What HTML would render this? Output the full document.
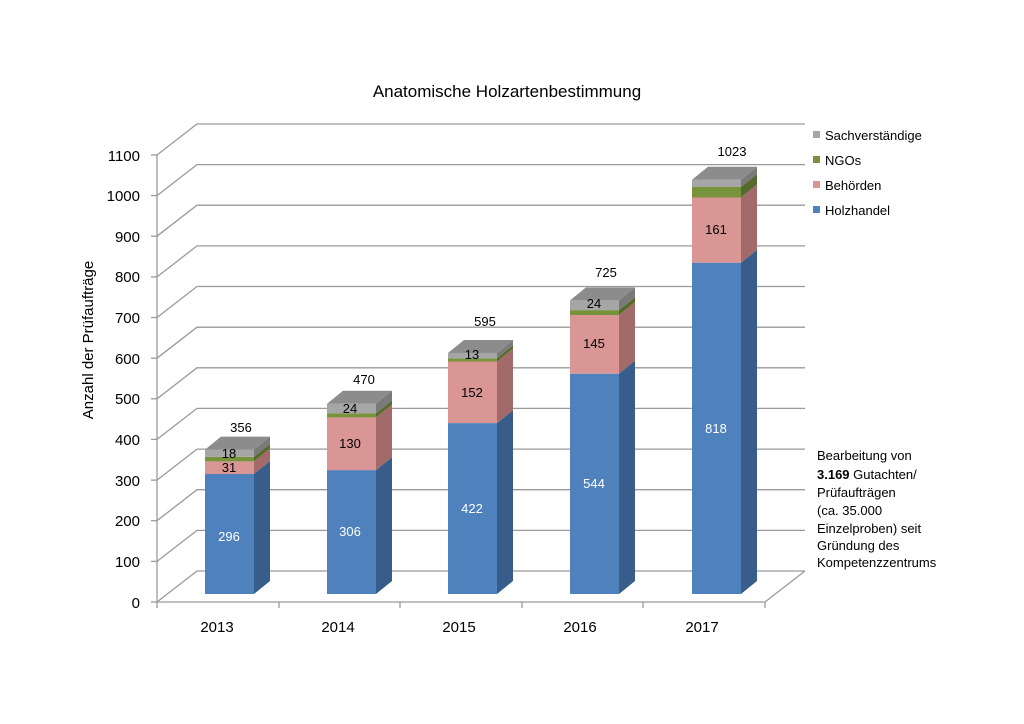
<!DOCTYPE html>
<html><head><meta charset="utf-8"><style>
html,body{margin:0;padding:0;background:#fff}
svg{display:block;font-family:"Liberation Sans",sans-serif}
</style></head><body>
<svg width="1024" height="724" viewBox="0 0 1024 724" xmlns="http://www.w3.org/2000/svg">
<rect width="1024" height="724" fill="#fff"/>
<text x="507" y="97" font-size="17" text-anchor="middle" fill="#000">Anatomische Holzartenbestimmung</text>
<g stroke="#9a9a9a" stroke-width="1.3" fill="none">
<polyline points="157,602 197,571 805,571"/>
<polyline points="157,561.4 197,530.4 805,530.4"/>
<polyline points="157,520.7 197,489.7 805,489.7"/>
<polyline points="157,480.1 197,449.1 805,449.1"/>
<polyline points="157,439.4 197,408.4 805,408.4"/>
<polyline points="157,398.8 197,367.8 805,367.8"/>
<polyline points="157,358.2 197,327.2 805,327.2"/>
<polyline points="157,317.5 197,286.5 805,286.5"/>
<polyline points="157,276.9 197,245.9 805,245.9"/>
<polyline points="157,236.2 197,205.2 805,205.2"/>
<polyline points="157,195.6 197,164.6 805,164.6"/>
<polyline points="157,155 197,124 805,124"/>
<line x1="157" y1="155" x2="157" y2="602"/>
<line x1="765" y1="602" x2="805" y2="571"/>
<line x1="157" y1="602" x2="765" y2="602"/>
<line x1="151" y1="602" x2="157" y2="602"/><line x1="151" y1="561.4" x2="157" y2="561.4"/><line x1="151" y1="520.7" x2="157" y2="520.7"/><line x1="151" y1="480.1" x2="157" y2="480.1"/><line x1="151" y1="439.4" x2="157" y2="439.4"/><line x1="151" y1="398.8" x2="157" y2="398.8"/><line x1="151" y1="358.2" x2="157" y2="358.2"/><line x1="151" y1="317.5" x2="157" y2="317.5"/><line x1="151" y1="276.9" x2="157" y2="276.9"/><line x1="151" y1="236.2" x2="157" y2="236.2"/><line x1="151" y1="195.6" x2="157" y2="195.6"/><line x1="151" y1="155" x2="157" y2="155"/>
<line x1="157" y1="602" x2="157" y2="608"/><line x1="279" y1="602" x2="279" y2="608"/><line x1="400" y1="602" x2="400" y2="608"/><line x1="522" y1="602" x2="522" y2="608"/><line x1="643" y1="602" x2="643" y2="608"/><line x1="765" y1="602" x2="765" y2="608"/>
</g>
<g font-size="15" text-anchor="end" fill="#000">
<text x="140" y="608">0</text><text x="140" y="567">100</text><text x="140" y="526">200</text><text x="140" y="486">300</text><text x="140" y="445">400</text><text x="140" y="404">500</text><text x="140" y="364">600</text><text x="140" y="323">700</text><text x="140" y="282">800</text><text x="140" y="242">900</text><text x="140" y="201">1000</text><text x="140" y="161">1100</text>
</g>
<text transform="translate(93,340) rotate(-90)" font-size="15" text-anchor="middle">Anzahl der Prüfaufträge</text>
<g font-size="15" text-anchor="middle">
<text x="217" y="632">2013</text><text x="338" y="632">2014</text><text x="459" y="632">2015</text><text x="580" y="632">2016</text><text x="702" y="632">2017</text>
</g>

<!-- 2013 -->
<g transform="translate(205,0)">
<rect x="0" y="474" width="49" height="120" fill="#4F81BD"/>
<rect x="0" y="461.4" width="49" height="12.6" fill="#D99694"/>
<rect x="0" y="456.9" width="49" height="4.5" fill="#77933C"/>
<rect x="0" y="449.6" width="49" height="7.3" fill="#A6A6A6"/>
<polygon points="49,594 65,581 65,461 49,474" fill="#385D8A"/>
<polygon points="49,474 65,461 65,448.4 49,461.4" fill="#A26B6A"/>
<polygon points="49,461.4 65,448.4 65,443.9 49,456.9" fill="#566B2B"/>
<polygon points="49,456.9 65,443.9 65,436.6 49,449.6" fill="#7A7A7A"/>
<polygon points="0,449.6 16,436.6 65,436.6 49,449.6" fill="#8C8C8C"/>
</g>
<!-- 2014 -->
<g transform="translate(327,0)">
<rect x="0" y="470.1" width="49" height="123.9" fill="#4F81BD"/>
<rect x="0" y="417.4" width="49" height="52.7" fill="#D99694"/>
<rect x="0" y="413.4" width="49" height="4" fill="#77933C"/>
<rect x="0" y="403.7" width="49" height="9.7" fill="#A6A6A6"/>
<polygon points="49,594 65,581 65,457.1 49,470.1" fill="#385D8A"/>
<polygon points="49,470.1 65,457.1 65,404.4 49,417.4" fill="#A26B6A"/>
<polygon points="49,417.4 65,404.4 65,400.4 49,413.4" fill="#566B2B"/>
<polygon points="49,413.4 65,400.4 65,390.7 49,403.7" fill="#7A7A7A"/>
<polygon points="0,403.7 16,390.7 65,390.7 49,403.7" fill="#8C8C8C"/>
</g>
<!-- 2015 -->
<g transform="translate(448,0)">
<rect x="0" y="423.1" width="49" height="170.9" fill="#4F81BD"/>
<rect x="0" y="361.5" width="49" height="61.6" fill="#D99694"/>
<rect x="0" y="358.3" width="49" height="3.2" fill="#77933C"/>
<rect x="0" y="353" width="49" height="5.3" fill="#A6A6A6"/>
<polygon points="49,594 65,581 65,410.1 49,423.1" fill="#385D8A"/>
<polygon points="49,423.1 65,410.1 65,348.5 49,361.5" fill="#A26B6A"/>
<polygon points="49,361.5 65,348.5 65,345.3 49,358.3" fill="#566B2B"/>
<polygon points="49,358.3 65,345.3 65,340 49,353" fill="#7A7A7A"/>
<polygon points="0,353 16,340 65,340 49,353" fill="#8C8C8C"/>
</g>
<!-- 2016 -->
<g transform="translate(570,0)">
<rect x="0" y="373.7" width="49" height="220.3" fill="#4F81BD"/>
<rect x="0" y="315" width="49" height="58.7" fill="#D99694"/>
<rect x="0" y="310.1" width="49" height="4.9" fill="#77933C"/>
<rect x="0" y="300.4" width="49" height="9.7" fill="#A6A6A6"/>
<polygon points="49,594 65,581 65,360.7 49,373.7" fill="#385D8A"/>
<polygon points="49,373.7 65,360.7 65,302 49,315" fill="#A26B6A"/>
<polygon points="49,315 65,302 65,297.1 49,310.1" fill="#566B2B"/>
<polygon points="49,310.1 65,297.1 65,287.4 49,300.4" fill="#7A7A7A"/>
<polygon points="0,300.4 16,287.4 65,287.4 49,300.4" fill="#8C8C8C"/>
</g>
<!-- 2017 -->
<g transform="translate(692,0)">
<rect x="0" y="262.7" width="49" height="331.3" fill="#4F81BD"/>
<rect x="0" y="197.5" width="49" height="65.2" fill="#D99694"/>
<rect x="0" y="187" width="49" height="10.5" fill="#77933C"/>
<rect x="0" y="179.7" width="49" height="7.3" fill="#A6A6A6"/>
<polygon points="49,594 65,581 65,249.7 49,262.7" fill="#385D8A"/>
<polygon points="49,262.7 65,249.7 65,184.5 49,197.5" fill="#A26B6A"/>
<polygon points="49,197.5 65,184.5 65,174 49,187" fill="#566B2B"/>
<polygon points="49,187 65,174 65,166.7 49,179.7" fill="#7A7A7A"/>
<polygon points="0,179.7 16,166.7 65,166.7 49,179.7" fill="#8C8C8C"/>
</g>

<g font-size="13" text-anchor="middle">
<text x="229" y="541" fill="#fff">296</text><text x="229" y="472">31</text><text x="229" y="458">18</text><text x="241" y="432">356</text>
<text x="350" y="536" fill="#fff">306</text><text x="350" y="448">130</text><text x="350" y="413">24</text><text x="364" y="384">470</text>
<text x="472" y="513" fill="#fff">422</text><text x="472" y="397">152</text><text x="472" y="359">13</text><text x="485" y="326">595</text>
<text x="594" y="488" fill="#fff">544</text><text x="594" y="348">145</text><text x="594" y="308">24</text><text x="606" y="277">725</text>
<text x="716" y="433" fill="#fff">818</text><text x="716" y="234">161</text><text x="732" y="156">1023</text>
</g>

<rect x="813" y="131" width="7" height="7" fill="#A6A6A6"/>
<rect x="813" y="156" width="7" height="7" fill="#77933C"/>
<rect x="813" y="181" width="7" height="7" fill="#D99694"/>
<rect x="813" y="206" width="7" height="7" fill="#4F81BD"/>
<g font-size="13">
<text x="825" y="140">Sachverständige</text>
<text x="825" y="165">NGOs</text>
<text x="825" y="190">Behörden</text>
<text x="825" y="215">Holzhandel</text>
</g>
<g font-size="13">
<text x="817" y="460">Bearbeitung von</text>
<text x="817" y="479"><tspan font-weight="bold">3.169</tspan> Gutachten/</text>
<text x="817" y="497">Prüfaufträgen</text>
<text x="817" y="515">(ca. 35.000</text>
<text x="817" y="533">Einzelproben) seit</text>
<text x="817" y="550">Gründung des</text>
<text x="817" y="567">Kompetenzzentrums</text>
</g>
</svg>
</body></html>
